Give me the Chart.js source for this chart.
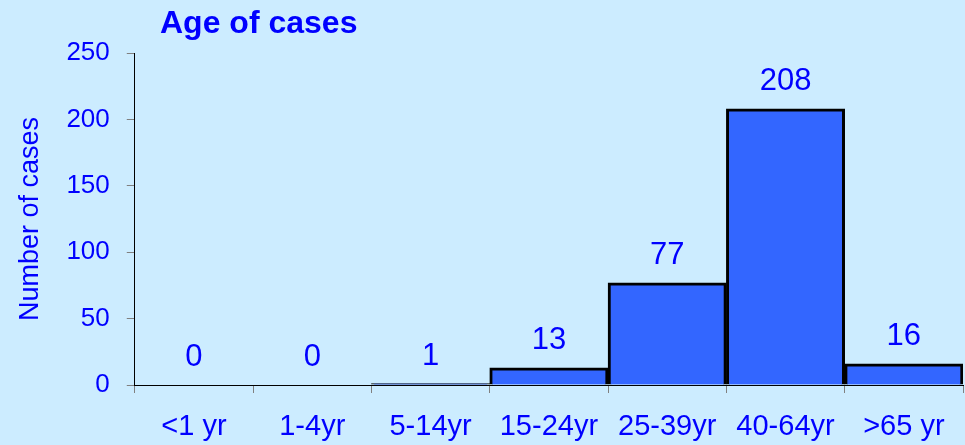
<!DOCTYPE html>
<html>
<head>
<meta charset="utf-8">
<script src="https://cdn.jsdelivr.net/npm/chart.js@4"></script>
<style>
  html, body { margin: 0; padding: 0; background: #CCECFF; }
  #wrap { width: 965px; height: 445px; position: relative; }
</style>
</head>
<body>
<div id="wrap"><canvas id="ageChart"></canvas></div>
<script>
const ageGroups = ["<1 yr", "1-4yr", "5-14yr", "15-24yr", "25-39yr", "40-64yr", ">65 yr"];
const caseCounts = [0, 0, 1, 13, 77, 208, 16];
const yTicks = [0, 50, 100, 150, 200, 250];

const blue = "#0000FF";

// bar value labels + title text
const labelsPlugin = {
  id: "valueLabels",
  afterDatasetsDraw(chart) {
    const ctx = chart.ctx;
    const meta = chart.getDatasetMeta(0);
    ctx.save();
    ctx.fillStyle = blue;
    ctx.textAlign = "center";
    ctx.textBaseline = "alphabetic";
    ctx.font = "31px 'Liberation Sans', Arial, sans-serif";
    meta.data.forEach((bar, i) => {
      ctx.fillText(String(caseCounts[i]), bar.x, bar.y - 19);
    });
    ctx.textAlign = "left";
    ctx.font = "bold 32px 'Liberation Sans', Arial, sans-serif";
    ctx.fillText("Age of cases", 160, 33);
    ctx.restore();
  },
};

new Chart(document.getElementById("ageChart"), {
  type: "bar",
  data: {
    labels: ageGroups,
    datasets: [{
      data: caseCounts,
      backgroundColor: "#3366FF",
      borderColor: "#000000",
      borderWidth: 3,
      barPercentage: 1,
      categoryPercentage: 1,
    }],
  },
  options: {
    responsive: true,
    maintainAspectRatio: false,
    animation: false,
    layout: { padding: { top: 53, right: 2, bottom: -15, left: 8 } },
    plugins: {
      legend: { display: false },
      tooltip: { enabled: false },
    },
    scales: {
      x: {
        grid: { drawOnChartArea: false, drawTicks: true, tickLength: 8, color: "#808080", offset: true },
        border: { color: "#000000", width: 1 },
        ticks: {
          color: blue,
          padding: 19,
          font: { family: "'Liberation Sans Narrow', 'Arial Narrow', 'Liberation Sans', sans-serif", size: 29, lineHeight: 1 },
        },
      },
      y: {
        min: 0,
        max: 250,
        afterBuildTicks(axis) { axis.ticks = yTicks.map(v => ({ value: v })); },
        grid: { drawOnChartArea: false, drawTicks: true, tickLength: 8, color: "#808080" },
        border: { color: "#000000", width: 1 },
        title: {
          display: true,
          text: "Number of cases",
          color: blue,
          padding: { top: 6, bottom: 3 },
          font: { family: "'Liberation Sans', Arial, sans-serif", size: 27 },
        },
        ticks: {
          color: blue,
          padding: 17,
          font: { family: "'Liberation Sans', Arial, sans-serif", size: 26 },
        },
      },
    },
  },
  plugins: [labelsPlugin],
});
</script>
</body>
</html>
